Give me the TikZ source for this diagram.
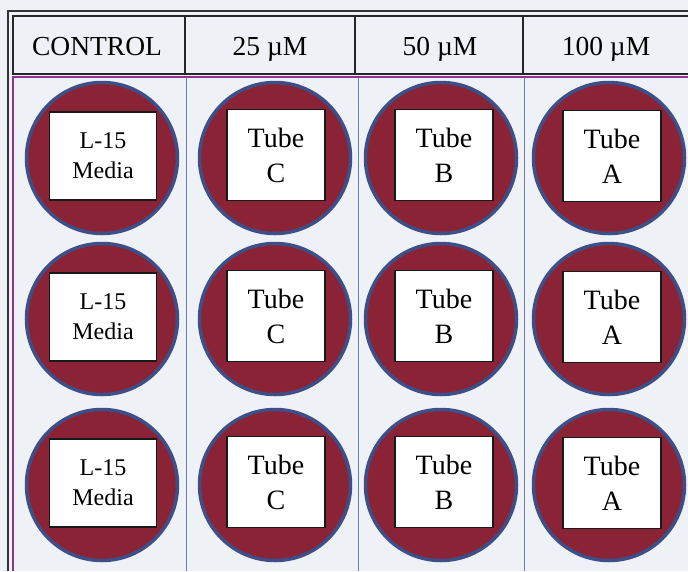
\documentclass[tikz,border=0pt]{standalone}
\usepackage{fontspec}
\setmainfont{Liberation Serif}
\usetikzlibrary{positioning}
\definecolor{paper}{HTML}{EEF1F5}
\definecolor{wellred}{HTML}{8A2336}
\definecolor{wellblue}{HTML}{3D4F86}
\definecolor{rim}{HTML}{8E3490}
\definecolor{grid}{HTML}{6A7DB3}

\begin{document}
\begin{tikzpicture}
	[x=1pt, y=-1pt, inner sep=0pt,
	head/.style	= {font=\fontsize{27.5}{30}\selectfont, anchor=base},
	well/.style	= {draw=wellblue, line width=3.5pt, fill=wellred, circle, minimum size=151pt},
	tubebox/.style	= {draw=black!90, line width=1.6pt, fill=white, rectangle, align=center,
				minimum width=98pt, minimum height=91pt, font=\fontsize{28}{35}\selectfont},
	mediabox/.style	= {tubebox, minimum width=107pt, minimum height=88pt, font=\fontsize{24}{30}\selectfont}]

	\useasboundingbox (0,0) rectangle (688,571);
	\clip (0,0) rectangle (688,571);
	\fill [paper] (0,0) rectangle (688,571);

	% frame and header
	\draw [line width=1.2pt, black!80] (8,571) -- (8,11) -- (688,11);
	\draw [line width=1.6pt, black!85] (13,16) rectangle (700,74);
	\draw [line width=1.6pt, black!85] (185,16) -- (185,74)
		(355,16) -- (355,74) (523,16) -- (523,74);

	\node [head] at (97,55)		(hc) {CONTROL};
	\node [head] at (270,55)	(h25) {25 µM};
	\node [head] at (440,55)	(h50) {50 µM};
	\node [head] at (606,55)	(h100) {100 µM};

	% plate body
	\draw [grid, line width=0.9pt] (186,77) -- (186,571)
		(358,77) -- (358,571) (524,77) -- (524,571);
	\draw [rim, line width=2.5pt] (13,571) -- (13,77) -- (688,77);

	\foreach \r/\y in {1/158, 2/319, 3/485} {
		\node [well] at (102,\y)	(w\r c) {};
		\node [well] at (275,\y)	(w\r 25) {};
		\node [well] at (441,\y)	(w\r 50) {};
		\node [well] at (609,\y)	(w\r 100) {};

		\node [mediabox] at (103,\y-2)	(t\r c) {L-15\\Media};
		\node [tubebox] at (276,\y-3)	(t\r 25) {Tube\\C};
		\node [tubebox] at (444,\y-3)	(t\r 50) {Tube\\B};
		\node [tubebox] at (612,\y-2)	(t\r 100) {Tube\\A};
	}
\end{tikzpicture}
\end{document}
